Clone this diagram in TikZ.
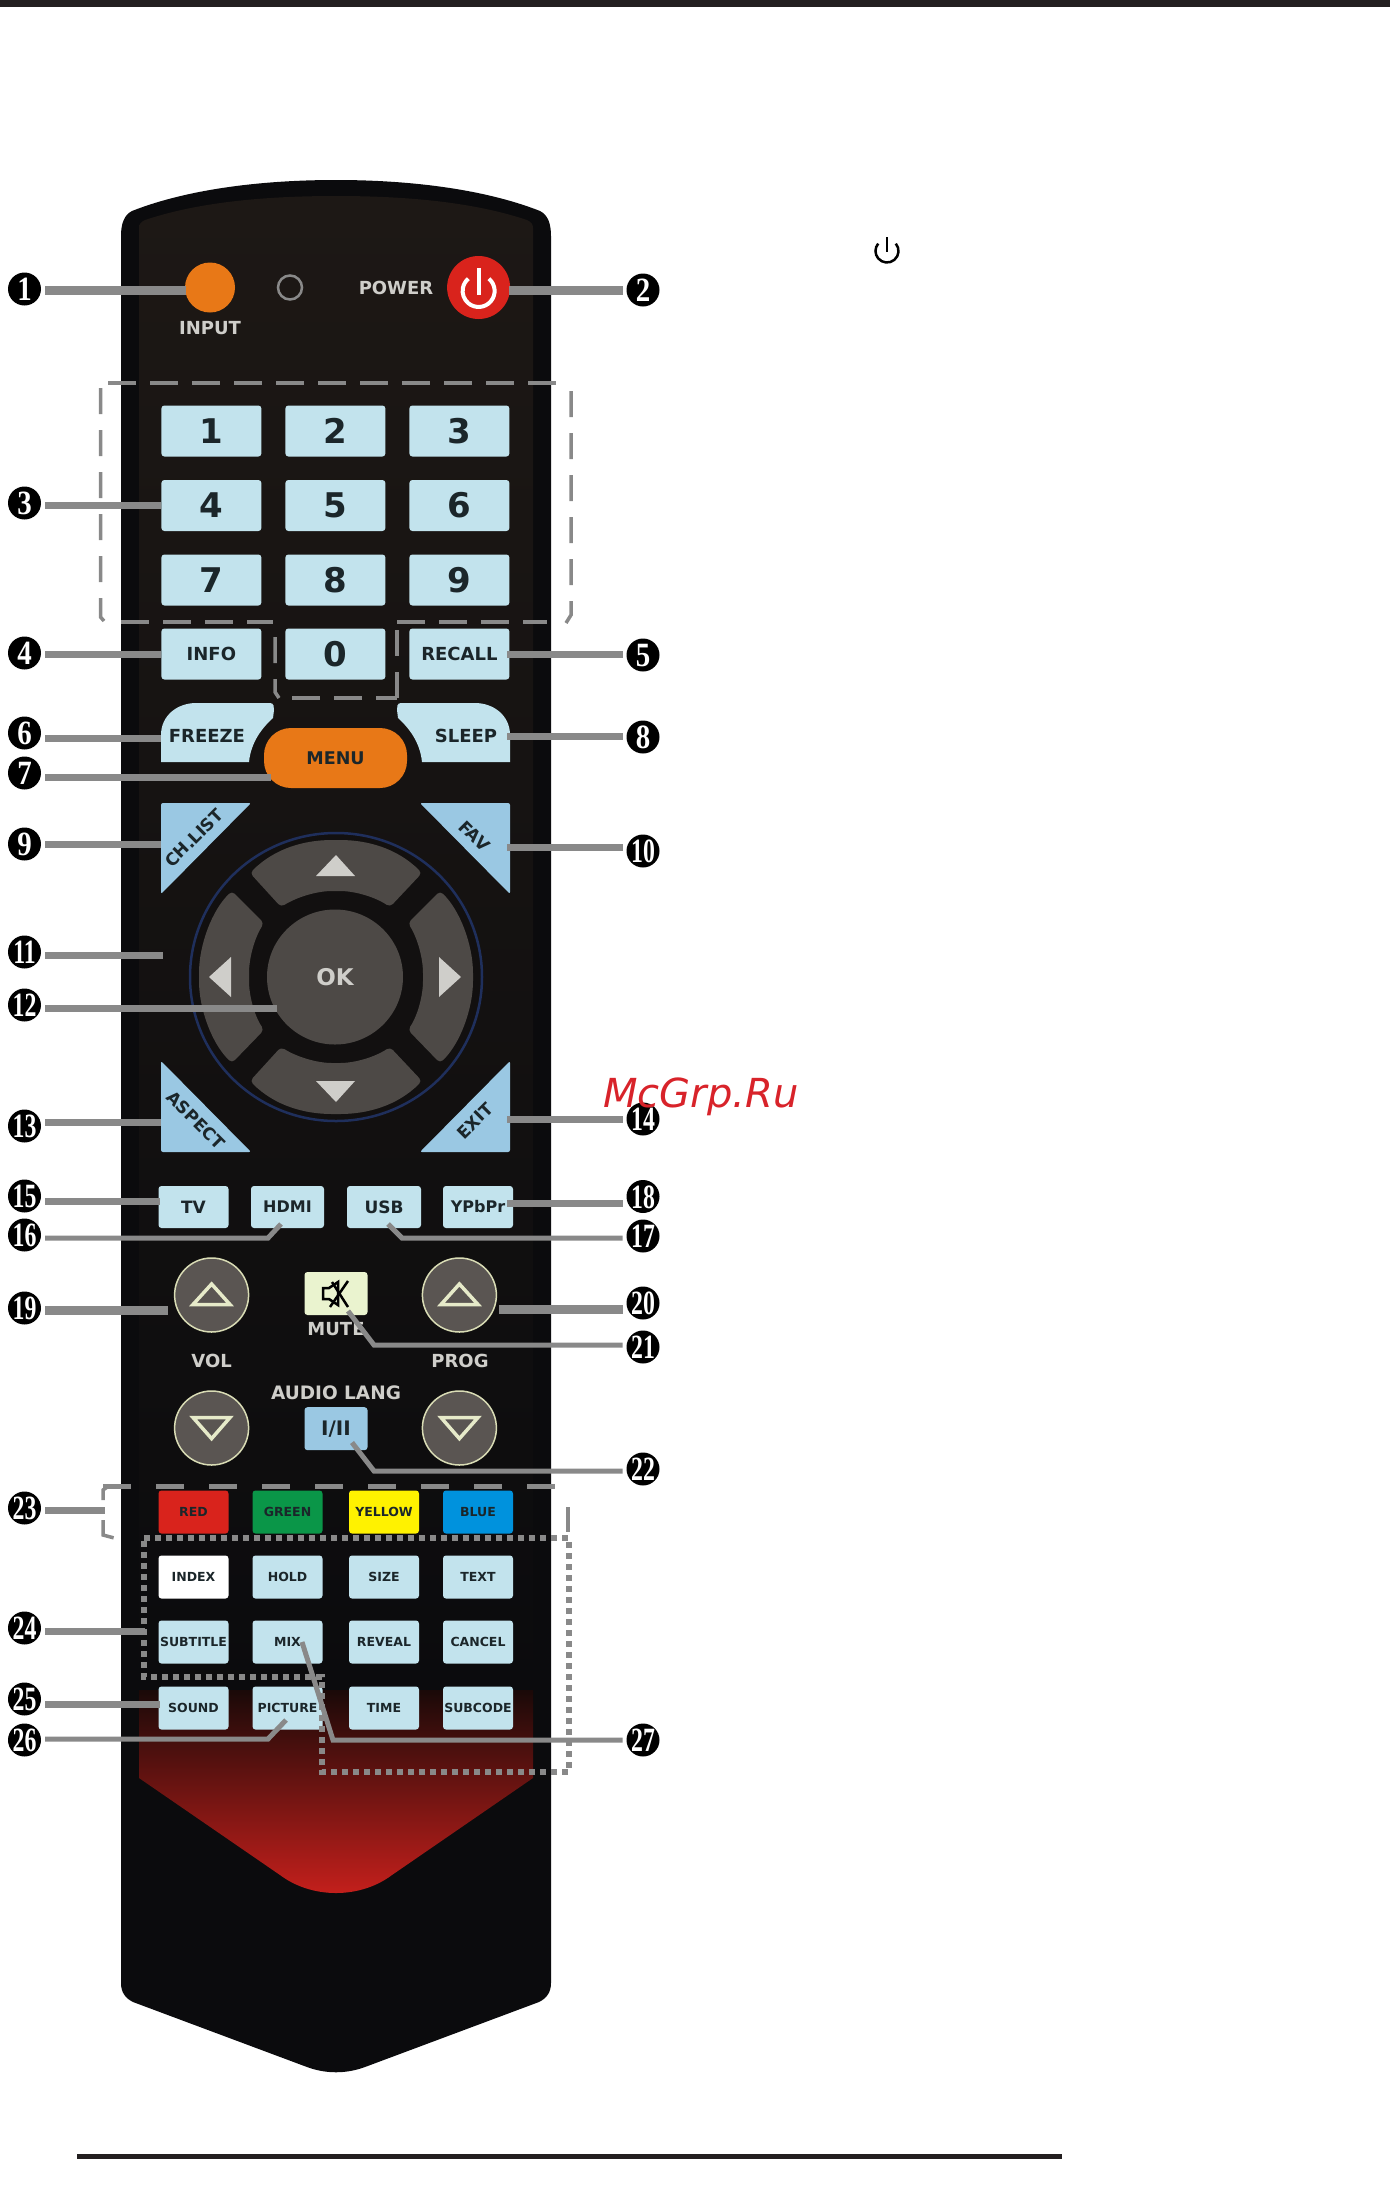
\documentclass[tikz,border=0pt]{standalone}
\usepackage{fontspec}
\usepackage{graphicx}
\setsansfont{DejaVu Sans}
\newfontfamily\callfont{Liberation Serif}
\usetikzlibrary{shapes.geometric}
\definecolor{keyblue}{HTML}{C2E3ED}
\definecolor{skyblue}{HTML}{9AC8E3}
\definecolor{btnorange}{HTML}{E87817}
\definecolor{btnred}{HTML}{D9231C}
\definecolor{keygreen}{HTML}{0A9648}
\definecolor{keyyellow}{HTML}{FFF200}
\definecolor{keydeep}{HTML}{0092DD}
\definecolor{padgray}{HTML}{4D4946}
\definecolor{rockgray}{HTML}{5A5552}
\definecolor{rockrim}{HTML}{D9DCB5}
\definecolor{rockmark}{HTML}{E6EAC9}
\definecolor{mutecream}{HTML}{EAF3CF}
\definecolor{leadgray}{HTML}{898989}
\definecolor{inkdark}{HTML}{1B262A}
\definecolor{printgray}{HTML}{CFCECA}
\definecolor{bodyblack}{HTML}{0B0B0D}
\definecolor{paneltop}{HTML}{1D1815}
\definecolor{panelmid}{HTML}{131110}
\definecolor{padfloor}{HTML}{121010}
\definecolor{ringblue}{HTML}{1F2F5C}
\definecolor{rulecolor}{HTML}{231F20}
\definecolor{chevtop}{HTML}{1A0908}
\definecolor{chevtip}{HTML}{C8201C}
\definecolor{stampred}{HTML}{D8232A}
\newcommand{\one}[1]{\raisebox{-11.5pt}[0pt][0pt]{\makebox[0pt]{\scalebox{.85}[1]{#1}}}}
\newcommand{\two}[1]{\raisebox{-11.5pt}[0pt][0pt]{\makebox[0pt]{\scalebox{.7}[1]{#1}}}}
\begin{document}
\begin{tikzpicture}[x=1pt,y=-1pt,node distance=124pt,
	key node/.style={rectangle,rounded corners=3pt,fill=keyblue,text=inkdark,inner sep=0pt,
		minimum width=100pt,minimum height=51pt,font=\sffamily\fontsize{34}{34}\selectfont\bfseries},
	soft node/.style={key node,minimum width=70pt,minimum height=42pt,
		font=\sffamily\fontsize{17}{17}\selectfont\bfseries},
	tiny node/.style={key node,minimum width=70pt,minimum height=43pt,
		font=\sffamily\fontsize{12.5}{12.5}\selectfont\bfseries},
	print node/.style={text=printgray,inner sep=0pt,font=\sffamily\fontsize{18}{18}\selectfont\bfseries},
	tri text/.style={text=inkdark,inner sep=0pt,font=\sffamily\fontsize{17}{17}\selectfont\bfseries},
	rocker node/.style={circle,fill=rockgray,draw=rockrim,line width=1.5pt,
		inner sep=0pt,minimum size=74pt},
	call node/.style={circle,fill=black,text=white,inner sep=0pt,minimum size=33pt,outer sep=4pt,
		font=\callfont\fontsize{34}{34}\selectfont\bfseries},
	lead line/.style={draw=leadgray,line width=7pt},
	heavy lead/.style={draw=leadgray,line width=9pt},
	fine lead/.style={draw=leadgray,line width=5pt},
	group dash/.style={draw=leadgray,line width=4.5pt,dash pattern=on 28pt off 14pt},
	group side/.style={draw=leadgray,line width=3.5pt,dash pattern=on 26pt off 16pt},
	group dots/.style={draw=leadgray,line width=5.5pt,dash pattern=on 6pt off 5pt}]

	\useasboundingbox (0,0) rectangle (1390,2190);
	\fill[rulecolor] (0,0) rectangle (1390,7);
	\fill[rulecolor] (77,2153.5) rectangle (1062,2158.5);

	% remote body
	\fill[bodyblack] (336,180) .. controls (250,180) and (180,192) .. (132,211)
		.. controls (124,215) and (121,224) .. (121,236) -- (121,1983)
		.. controls (121,1992) and (125,1998) .. (133,2002) -- (307,2067)
		.. controls (326,2074) and (346,2074) .. (365,2067) -- (539,2002)
		.. controls (547,1998) and (551,1992) .. (551,1983) -- (551,236)
		.. controls (551,224) and (548,215) .. (540,211)
		.. controls (492,192) and (422,180) .. (336,180) -- cycle;
	\shade[top color=paneltop,middle color=panelmid,bottom color=bodyblack]
		(336,196) .. controls (250,196) and (190,205) .. (145,220)
		.. controls (141,222) and (139,224) .. (139,228) -- (139,1700) -- (533,1700) -- (533,228)
		.. controls (533,224) and (531,222) .. (527,220)
		.. controls (482,205) and (422,196) .. (336,196) -- cycle;
	\shade[top color=chevtop,bottom color=chevtip]
		(139,1690) -- (533,1690) -- (533,1778) -- (392,1875)
		.. controls (360,1899) and (312,1899) .. (280,1875) -- (139,1778) -- cycle;

	% top row
	\node[circle,fill=btnorange,minimum size=50pt,inner sep=0pt] (input) at (210,287.5) {};
	\node[print node] (inputtxt) at (210,328) {INPUT};
	\node[circle,draw=leadgray,line width=2.5pt,minimum size=24pt,inner sep=0pt] (led) at (290,287.5) {};
	\node[print node] (powertxt) at (396,287.5) {POWER};
	\node[circle,fill=btnred,minimum size=63pt,inner sep=0pt] (power) at (478.6,287.5) {};
	\draw[white,line width=4pt] (488.9,278.7) arc[start angle=50,end angle=-230,radius=16pt];
	\draw[white,line width=4pt] (478.6,268) -- (478.6,295);

	% number pad
	\node[key node] (k1) at (211.4,431) {1};
	\node[key node] (k2) [right of=k1] {2};
	\node[key node] (k3) [right of=k2] {3};
	\node[key node] (k4) [below of=k1,node distance=74.5pt] {4};
	\node[key node] (k5) [right of=k4] {5};
	\node[key node] (k6) [right of=k5] {6};
	\node[key node] (k7) [below of=k4,node distance=74.5pt] {7};
	\node[key node] (k8) [right of=k7] {8};
	\node[key node] (k9) [right of=k8] {9};
	\node[key node,font=\sffamily\fontsize{18}{18}\selectfont\bfseries] (info) [below of=k7,node distance=74pt] {INFO};
	\node[key node] (k0) [right of=info] {0};
	\node[key node,font=\sffamily\fontsize{18}{18}\selectfont\bfseries] (recall) [right of=k0] {RECALL};

	% freeze, sleep, menu
	\fill[keyblue] (161,762) -- (161,735) .. controls (161,715) and (178,703) .. (196,703)
		-- (270,703) .. controls (274,703) and (274,707) .. (274,710) -- (273,718)
		.. controls (262,728) and (251,742) .. (249,762) -- cycle;
	\fill[keyblue] (510,762) -- (510,735) .. controls (510,715) and (493,703) .. (475,703)
		-- (401,703) .. controls (397,703) and (397,707) .. (397,710) -- (398,718)
		.. controls (409,728) and (420,742) .. (422,762) -- cycle;
	\node[tri text,font=\sffamily\fontsize{18}{18}\selectfont\bfseries] (freeze) at (207,736) {FREEZE};
	\node[tri text,font=\sffamily\fontsize{18}{18}\selectfont\bfseries] (sleep) at (466,736) {SLEEP};
	\node[rectangle,rounded corners=27pt,fill=btnorange,text=inkdark,minimum width=143pt,minimum height=60pt,
		inner sep=0pt,font=\sffamily\fontsize{17.5}{17.5}\selectfont\bfseries] (menu) at (335.5,758) {MENU};

	% corner keys
	\fill[skyblue,rounded corners=2pt] (161,803) -- (251,803) -- (161,894) -- cycle;
	\fill[skyblue,rounded corners=2pt] (510,803) -- (420,803) -- (510,894) -- cycle;
	\fill[skyblue,rounded corners=2pt] (161,1061) -- (161,1152) -- (251,1152) -- cycle;
	\fill[skyblue,rounded corners=2pt] (510,1061) -- (510,1152) -- (420,1152) -- cycle;
	\node[tri text,rotate=45] (chlist) at (194,838) {CH.LIST};
	\node[tri text,rotate=-45] (fav) at (474.5,836) {FAV};
	\node[tri text,rotate=-45] (aspect) at (196,1120) {ASPECT};
	\node[tri text,rotate=45] (exit) at (475,1121) {EXIT};

	% direction pad
	\draw[draw=ringblue,fill=padfloor,line width=2.5pt] (336,977) ellipse (146 and 144);
	\fill[padgray,rounded corners=4pt] (250,873) .. controls (275,848) and (305,840) .. (336,840)
		.. controls (367,840) and (397,848) .. (422,873) -- (390,907)
		.. controls (375,897) and (355,891) .. (336,891) .. controls (317,891) and (297,897) .. (281,907) -- cycle;
	\fill[padgray,rounded corners=4pt] (250,1081) .. controls (275,1106) and (305,1114) .. (336,1114)
		.. controls (367,1114) and (397,1106) .. (422,1081) -- (390,1047)
		.. controls (375,1057) and (355,1063) .. (336,1063) .. controls (317,1063) and (297,1057) .. (281,1047) -- cycle;
	\fill[padgray,rounded corners=4pt] (232,891) .. controls (212,910) and (199,945) .. (199,977)
		.. controls (199,1009) and (212,1044) .. (232,1063) -- (264,1030)
		.. controls (254,1015) and (249,995) .. (249,977) .. controls (249,959) and (254,939) .. (264,923) -- cycle;
	\fill[padgray,rounded corners=4pt] (440,891) .. controls (460,910) and (473,945) .. (473,977)
		.. controls (473,1009) and (460,1044) .. (440,1063) -- (408,1030)
		.. controls (418,1015) and (423,995) .. (423,977) .. controls (423,959) and (418,939) .. (408,923) -- cycle;
	\fill[printgray] (316,876) -- (355,876) -- (336,855) -- cycle;
	\fill[printgray] (316,1081) -- (355,1081) -- (336,1102) -- cycle;
	\fill[printgray] (231,957) -- (231,997) -- (209,977) -- cycle;
	\fill[printgray] (439,957) -- (439,997) -- (461,977) -- cycle;
	\node[ellipse,fill=padgray,text=printgray,minimum width=136pt,minimum height=135pt,inner sep=0pt,
		font=\sffamily\fontsize{23}{23}\selectfont\bfseries] (ok) at (335,977) {OK};

	% source row
	\node[soft node] (tv) at (193.5,1207) {TV};
	\node[soft node,minimum width=73pt,font=\sffamily\fontsize{16}{16}\selectfont\bfseries] (hdmi) at (287.5,1207) {HDMI};
	\node[soft node,minimum width=74pt] (usb) at (384,1207) {USB};
	\node[soft node,font=\sffamily\fontsize{16}{16}\selectfont\bfseries] (ypbpr) at (478,1207) {YPbPr};

	% vol, prog, mute
	\node[rocker node] (volup) at (211.6,1295) {};
	\node[rocker node] (voldn) at (211.6,1428) {};
	\node[rocker node] (progup) at (459.4,1295) {};
	\node[rocker node] (progdn) at (459.4,1428) {};
	\draw[rockmark,line width=3.5pt] (193,1304.5) -- (230,1304.5) -- (211.6,1284) -- cycle;
	\draw[rockmark,line width=3.5pt] (441,1304.5) -- (478,1304.5) -- (459.4,1284) -- cycle;
	\draw[rockmark,line width=3.5pt] (193,1417.5) -- (230,1417.5) -- (211.6,1438.6) -- cycle;
	\draw[rockmark,line width=3.5pt] (441,1417.5) -- (478,1417.5) -- (459.4,1438.6) -- cycle;
	\node[print node] (voltxt) at (211.6,1361) {VOL};
	\node[print node] (progtxt) at (460,1361) {PROG};
	\node[key node,minimum width=63pt,minimum height=43pt,fill=mutecream] (mute) at (336,1293.5) {};
	\draw[black,line width=2.5pt] (323,1288) -- (329,1288) -- (338,1282) -- (338,1305) -- (329,1299) -- (323,1299) -- cycle;
	\draw[black,line width=2.5pt] (332,1282) -- (348,1307) (348,1281) -- (330,1307);
	\node[print node] (mutetxt) at (336,1329) {MUTE};
	\node[print node,font=\sffamily\fontsize{18.5}{18.5}\selectfont\bfseries] (audiotxt) at (336,1393) {AUDIO LANG};
	\node[key node,fill=skyblue,minimum width=63pt,minimum height=43pt,font=\sffamily\fontsize{20}{20}\selectfont\bfseries] (lang) at (336,1428.7) {I/II};

	% colour keys and text keys
	\node[tiny node,fill=btnred] (red) at (193.5,1512) {RED};
	\node[tiny node,fill=keygreen] (green) at (287.5,1512) {GREEN};
	\node[tiny node,fill=keyyellow] (yellow) at (384,1512) {YELLOW};
	\node[tiny node,fill=keydeep] (blue) at (478,1512) {BLUE};
	\node[tiny node,fill=white] (index) at (193.5,1577) {INDEX};
	\node[tiny node] (hold) at (287.5,1577) {HOLD};
	\node[tiny node] (size) at (384,1577) {SIZE};
	\node[tiny node] (text) at (478,1577) {TEXT};
	\node[tiny node] (subtitle) at (193.5,1642) {SUBTITLE};
	\node[tiny node] (mix) at (287.5,1642) {MIX};
	\node[tiny node] (reveal) at (384,1642) {REVEAL};
	\node[tiny node] (cancel) at (478,1642) {CANCEL};
	\node[tiny node] (sound) at (193.5,1708) {SOUND};
	\node[tiny node] (picture) at (287.5,1708) {PICTURE};
	\node[tiny node] (time) at (384,1708) {TIME};
	\node[tiny node] (subcode) at (478,1708) {SUBCODE};

	% group frames
	\draw[group dash] (108,383) -- (558,383);
	\draw[group side] (100.5,388) -- (100.5,617) -- (104,621);
	\draw[group side] (571,391) -- (571,615) -- (566,623);
	\draw[group dash] (121,622) -- (273,622);
	\draw[group side] (275,637) -- (275,692) -- (279,698);
	\draw[group dash] (292,698) -- (397,698);
	\draw[group side] (397,698) -- (397,628);
	\draw[group dash] (397,622) -- (547,622);
	\draw[group dash,dash pattern=on 28pt off 25pt] (103,1486.5) -- (559,1486.5);
	\draw[group side] (103,1500) -- (103,1490) -- (108,1486.5);
	\draw[group side] (103,1520) -- (103,1535) -- (118,1539);
	\draw[group side] (568,1507) -- (568,1532);
	\draw[group dots] (144,1538) -- (569,1538) -- (569,1772) -- (322,1772) -- (322,1677) -- (144,1677) -- cycle;

	% callouts
	\node[call node] (c1) at (24.5,289) {\one{1}};
	\node[call node] (c2) at (643,290) {\one{2}};
	\node[call node] (c3) at (24.5,503) {\one{3}};
	\node[call node] (c4) at (24.5,653) {\one{4}};
	\node[call node] (c5) at (643,655) {\one{5}};
	\node[call node] (c6) at (24.5,733) {\one{6}};
	\node[call node] (c7) at (24.5,773) {\one{7}};
	\node[call node] (c8) at (643,737) {\one{8}};
	\node[call node] (c9) at (24.5,844) {\one{9}};
	\node[call node] (c10) at (643,851) {\two{10}};
	\node[call node] (c11) at (24.5,952) {\two{11}};
	\node[call node] (c12) at (24.5,1005) {\two{12}};
	\node[call node] (c13) at (24.5,1126) {\two{13}};
	\node[call node] (c14) at (643,1119) {\two{14}};
	\node[call node] (c15) at (24.5,1196) {\two{15}};
	\node[call node] (c16) at (24.5,1235) {\two{16}};
	\node[call node] (c17) at (643,1236) {\two{17}};
	\node[call node] (c18) at (643,1196.5) {\two{18}};
	\node[call node] (c19) at (24.5,1308) {\two{19}};
	\node[call node] (c20) at (643,1303) {\two{20}};
	\node[call node] (c21) at (643,1347) {\two{21}};
	\node[call node] (c22) at (643,1469) {\two{22}};
	\node[call node] (c23) at (24.5,1508) {\two{23}};
	\node[call node] (c24) at (24.5,1628) {\two{24}};
	\node[call node] (c25) at (24.5,1699) {\two{25}};
	\node[call node] (c26) at (24.5,1740) {\two{26}};
	\node[call node] (c27) at (643,1740) {\two{27}};

	% leader ends
	\coordinate (e1) at (186,290);
	\coordinate (e2) at (509,290);
	\coordinate (e3) at (161,505);
	\coordinate (e4) at (161,654);
	\coordinate (e5) at (507,654);
	\coordinate (e6) at (161,738);
	\coordinate (e7) at (271,777);
	\coordinate (e8) at (507,736);
	\coordinate (e9) at (161,844);
	\coordinate (e10) at (507,847);
	\coordinate (e11) at (163,955);
	\coordinate (e12) at (277,1008);
	\coordinate (e13) at (161,1122);
	\coordinate (e14) at (507,1119);
	\coordinate (e15) at (160,1201);
	\coordinate (e18) at (507,1203);
	\coordinate (e19) at (168,1310);
	\coordinate (e20) at (499,1309);
	\coordinate (e23) at (105,1510);
	\coordinate (e24) at (145,1631);
	\coordinate (e25) at (160,1704);
	\coordinate (b16) at (268,1238);
	\coordinate (e16) at (281,1224);
	\coordinate (b17) at (402,1238);
	\coordinate (e17) at (388,1224);
	\coordinate (b21) at (374,1345);
	\coordinate (e21) at (348,1311);
	\coordinate (b22) at (374,1471);
	\coordinate (e22) at (352,1442.5);
	\coordinate (b26) at (268,1739);
	\coordinate (e26) at (286,1720);
	\coordinate (b27) at (333,1740);
	\coordinate (e27) at (302,1642);

	\foreach \n in {3,4,6,7,9,11,12,13,15,23,24,25}
		\path[lead line] (c\n.east |- e\n) edge (e\n);
	\foreach \n in {5,8,10,14,18}
		\path[lead line] (c\n.west |- e\n) edge (e\n);
	\path[heavy lead] (c1.east |- e1) edge (e1)
		(c19.east |- e19) edge (e19)
		(c2.west |- e2) edge (e2)
		(c20.west |- e20) edge (e20);
	\draw[fine lead] (c16.east |- b16) -- (b16) -- (e16);
	\draw[fine lead] (c26.east |- b26) -- (b26) -- (e26);
	\draw[fine lead] (c17.west |- b17) -- (b17) -- (e17);
	\draw[fine lead] (c21.west |- b21) -- (b21) -- (e21);
	\draw[fine lead] (c22.west |- b22) -- (b22) -- (e22);
	\draw[fine lead] (c27.west |- b27) -- (b27) -- (e27);

	% standby sign and watermark
	\draw[black,line width=2.5pt] (895.8,243.6) arc[start angle=40,end angle=-220,radius=11.5pt];
	\draw[black,line width=2.5pt] (887,237) -- (887,252);
	\node[text=stampred,inner sep=0pt,font=\fontspec{DejaVu Sans}\fontsize{40}{40}\selectfont\itshape] (stamp) at (701,1097) {McGrp.Ru};
\end{tikzpicture}
\end{document}
